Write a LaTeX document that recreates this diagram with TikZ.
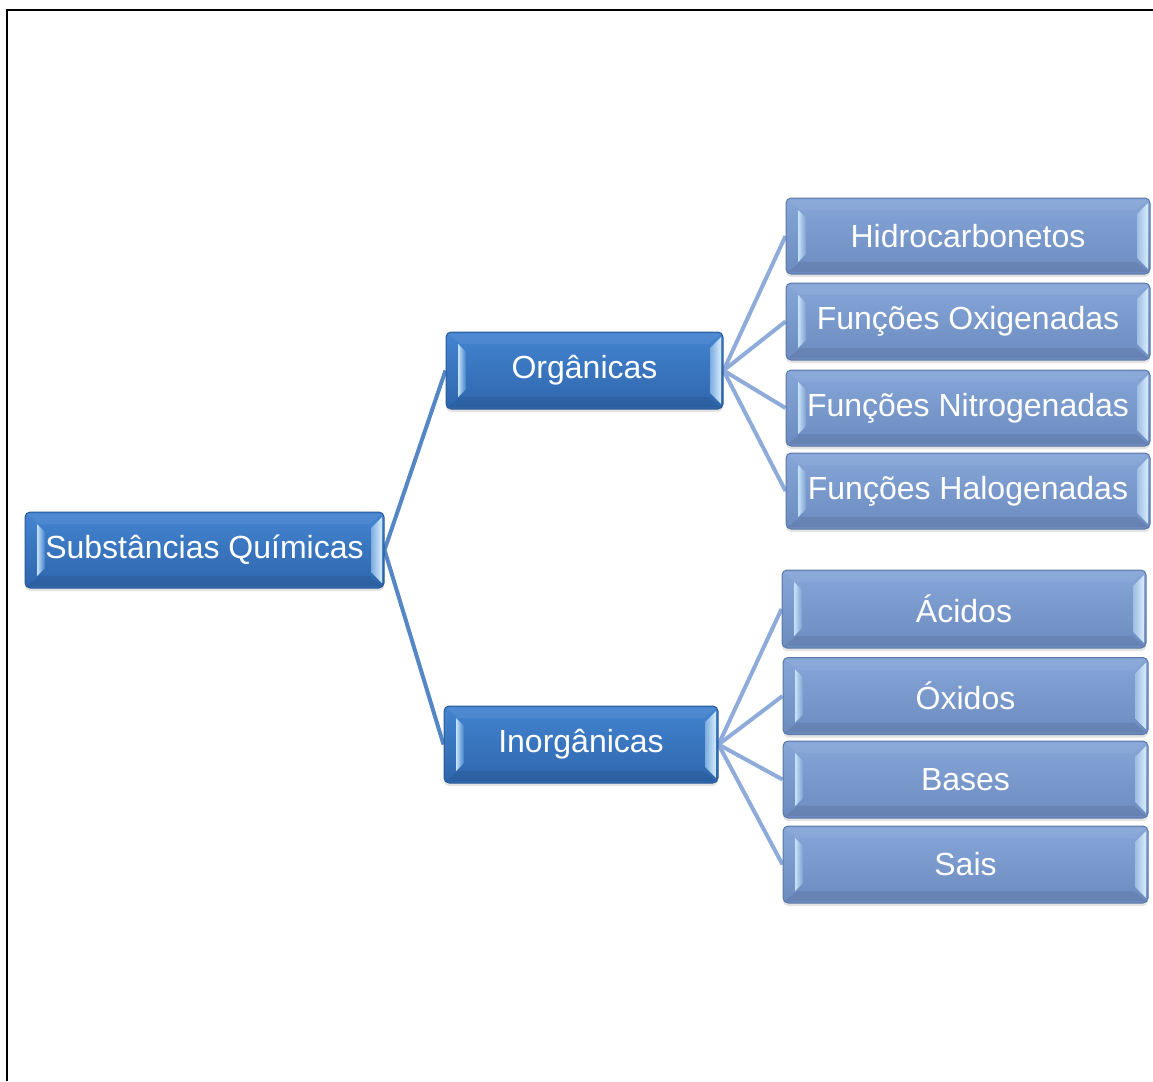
\documentclass[tikz,border=0pt]{standalone}
\usepackage{fontspec}
\setmainfont{Liberation Sans}
\usetikzlibrary{calc,shadows,backgrounds}
\definecolor{ptop}{HTML}{4484D1}
\definecolor{pbot}{HTML}{2E66AC}
\definecolor{pline}{HTML}{2A5A96}
\definecolor{ctop}{HTML}{86A6D8}
\definecolor{cbot}{HTML}{6C8BBF}
\definecolor{cline}{HTML}{5A78A8}
\definecolor{plink}{HTML}{5587C7}
\definecolor{clink}{HTML}{8EABDA}
\definecolor{hilite}{HTML}{C6E4FA}
\begin{document}
\begin{tikzpicture}[x=1pt,y=-1pt,
  bevel/.style={path picture={
    \begin{scope}[sharp corners]
    \path (path picture bounding box.south west) coordinate (bsw)
          (path picture bounding box.north east) coordinate (bne)
          (bsw |- bne) coordinate (bnw)
          (bne |- bsw) coordinate (bse);
    % soft top and bottom bands
    \fill[white,opacity=0.06] ($(bnw)+(2pt,-2pt)$) -- ($(bne)+(-2pt,-2pt)$)
         -- ($(bne)+(-14pt,-12pt)$) -- ($(bnw)+(14pt,-12pt)$) -- cycle;
    \fill[black,opacity=0.07] ($(bsw)+(2pt,2pt)$) -- ($(bse)+(-2pt,2pt)$)
         -- ($(bse)+(-14pt,12pt)$) -- ($(bsw)+(14pt,12pt)$) -- cycle;
    % left bevel highlight
    \shade[left color=hilite, right color=#1]
         ($(bnw)+(12pt,-12pt)$) -- ($(bnw)+(20pt,-20pt)$)
      -- ($(bsw)+(20pt,20pt)$) -- ($(bsw)+(12pt,12pt)$) -- cycle;
    % right bevel highlight
    \shade[left color=#1!55!hilite, right color=hilite!70!white]
         ($(bne)+(-2pt,-5pt)$) -- ($(bse)+(-2pt,5pt)$)
      -- ($(bse)+(-13pt,16pt)$) -- ($(bne)+(-13pt,-16pt)$) -- cycle;
    \end{scope}
  }},
  pbox/.style={rounded corners=5pt, draw=pline, line width=1pt,
    top color=ptop, bottom color=pbot, bevel=ptop!80!pbot,
    drop shadow={shadow xshift=0pt, shadow yshift=-3pt, opacity=0.22},
    text=white, font=\fontsize{32}{36}\selectfont, inner sep=0pt},
  cbox/.style={rounded corners=5pt, draw=cline, line width=1pt,
    top color=ctop, bottom color=cbot, bevel=ctop!70!cbot,
    drop shadow={shadow xshift=0pt, shadow yshift=-3pt, opacity=0.22},
    text=white, font=\fontsize{32}{36}\selectfont, inner sep=0pt},
  plinkst/.style={draw=plink, line width=4pt},
  clinkst/.style={draw=clink, line width=4pt}]
\useasboundingbox (0,0) rectangle (1153,1081);

% outer frame
\draw[line width=2pt] (7,1081) -- (7,10) -- (1153,10);

% boxes
\node[pbox, minimum width=359pt, minimum height=76pt] (root) at (204.5,550) {Substâncias Químicas};
\node[pbox, minimum width=277pt, minimum height=77pt] (org) at (584.5,370.5) {Orgânicas};
\node[pbox, minimum width=274pt, minimum height=77pt] (inorg) at (581,744.5) {Inorgânicas};

\node[cbox, minimum width=364pt, minimum height=76pt] (hidro) at (968,236) {Hidrocarbonetos};
\node[cbox, minimum width=364pt, minimum height=77pt] (oxi) at (968,321.5) {Funções Oxigenadas};
\node[cbox, minimum width=364pt, minimum height=76pt] (nitro) at (968,408) {Funções Nitrogenadas};
\node[cbox, minimum width=364pt, minimum height=76pt] (halo) at (968,491) {Funções Halogenadas};

\node[cbox, minimum width=364pt, minimum height=78pt] (acidos) at (964,609) {Ácidos};
\node[cbox, minimum width=365pt, minimum height=77pt] (oxidos) at (965.5,696) {Óxidos};
\node[cbox, minimum width=365pt, minimum height=77pt] (bases) at (965.5,779.5) {Bases};
\node[cbox, minimum width=365pt, minimum height=77pt] (sais) at (965.5,864.5) {Sais};

% connectors, kept behind the boxes
\begin{scope}[on background layer]
\draw[plinkst] (root.east) -- (org.west);
\draw[plinkst] (root.east) -- (inorg.west);
\draw[clinkst] (org.east) -- (hidro.west);
\draw[clinkst] (org.east) -- (oxi.west);
\draw[clinkst] (org.east) -- (nitro.west);
\draw[clinkst] (org.east) -- (halo.west);
\draw[clinkst] (inorg.east) -- (acidos.west);
\draw[clinkst] (inorg.east) -- (oxidos.west);
\draw[clinkst] (inorg.east) -- (bases.west);
\draw[clinkst] (inorg.east) -- (sais.west);
\end{scope}
\end{tikzpicture}
\end{document}
